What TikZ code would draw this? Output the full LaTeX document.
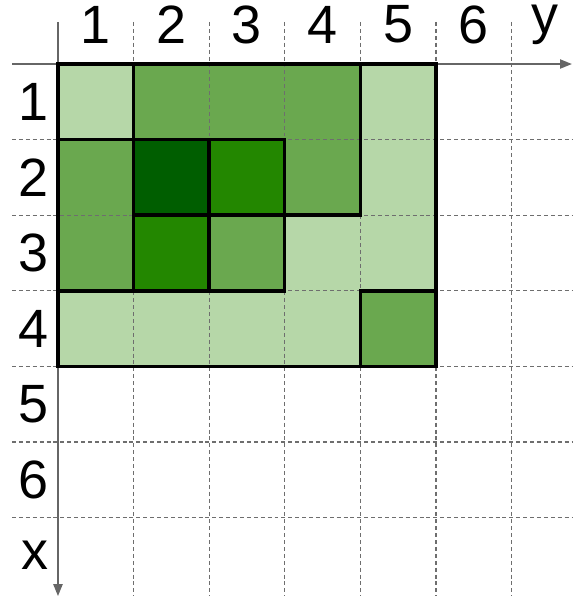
\documentclass[tikz,border=0pt]{standalone}
\usepackage{fontspec}
\setmainfont{Liberation Sans}
\usetikzlibrary{arrows.meta}

\definecolor{lightg}{HTML}{B6D7A8}
\definecolor{midg}{HTML}{6AA84F}
\definecolor{darkg}{HTML}{238700}
\definecolor{deepg}{HTML}{005E00}
\definecolor{axisgray}{HTML}{666666}
\definecolor{gridgray}{HTML}{6E6E6E}

\begin{document}
\begin{tikzpicture}[x=1cm,y=-1cm,
  frame/.style={draw=black,line width=1.3pt},
  gridline/.style={gridgray,line width=0.45pt,dash pattern=on 1.5pt off 1.1pt},
  axis/.style={axisgray,line width=0.75pt,-{Triangle[length=4.5pt,width=3.4pt]}},
  lab/.style={font=\fontsize{20.3}{22}\selectfont,inner sep=0pt}]
\useasboundingbox (-0.767,-0.847) rectangle (6.984,7.17);

% cell colours, row/column/colour
\foreach \r/\c/\col in {1/1/lightg,1/2/midg,1/3/midg,1/4/midg,1/5/lightg,
    2/1/midg,2/2/deepg,2/3/darkg,2/4/midg,2/5/lightg,
    3/1/midg,3/2/darkg,3/3/midg,3/4/lightg,3/5/lightg,
    4/1/lightg,4/2/lightg,4/3/lightg,4/4/lightg,4/5/midg}
  \fill[\col] (\c-1,\r-1) rectangle (\c,\r);

% dashed grid
\foreach \i in {1,...,6} {
  \draw[gridline] (\i,-0.556) -- (\i,7.04);
  \draw[gridline] (-0.608,\i) -- (6.81,\i);
}

% axes
\coordinate (ystart) at (-0.608,0);
\coordinate (yend) at (6.80,0);
\coordinate (xstart) at (0,-0.556);
\coordinate (xend) at (0,7.04);
\draw[axis] (ystart) -- (yend);
\draw[axis] (xstart) -- (xend);

% outlined blocks
\draw[frame] (0,0) rectangle (5,4);
\draw[frame] (1,0) rectangle (4,2);
\draw[frame] (0,1) rectangle (3,3);
\foreach \r/\c in {2/2,2/3,3/2,3/3}
  \draw[frame] (\c-1,\r-1) rectangle (\c,\r);
\draw[frame] (4,3) rectangle (5,4);

% labels
\foreach \i in {1,...,6} {
  \node[lab] (col\i) at (\i-0.5,-0.52) {\i};
  \node[lab] (row\i) at (-0.33,\i-0.5) {\i};
}
\node[lab,anchor=base] (ylab) at (6.44,-0.40) {y};
\node[lab,anchor=base] (xlab) at (-0.31,6.69) {x};
\end{tikzpicture}
\end{document}
